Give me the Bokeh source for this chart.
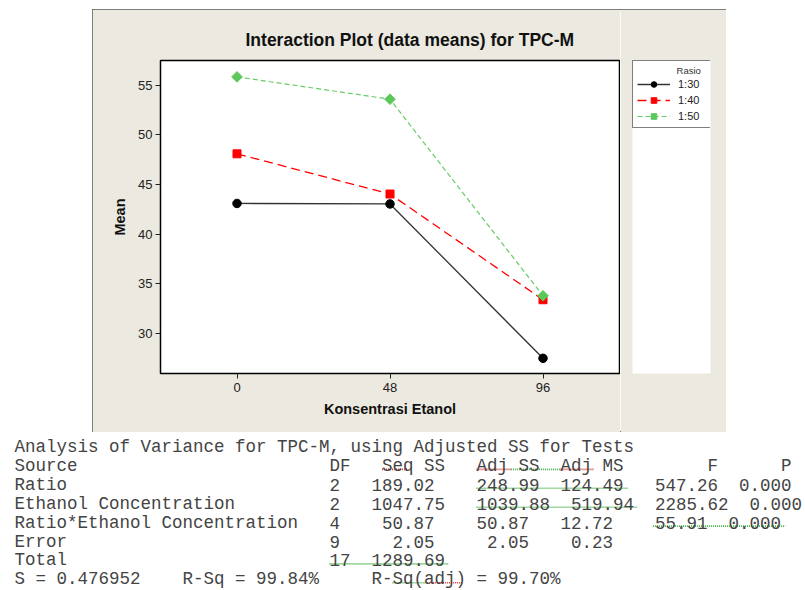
from bokeh.plotting import figure
from bokeh.models import (Range1d, FixedTicker, Legend, LegendItem,
                          ColumnDataSource, Spacer)
from bokeh.layouts import column, row
from bokeh.embed import file_html
from bokeh.resources import INLINE
from bokeh.core.properties import value

# ---------------- chart data ----------------
etanol = [0, 48, 96]
ratios = ["1:30", "1:40", "1:50"]
mean_1_30 = [43.1, 43.05, 27.5]
mean_1_40 = [48.1, 44.05, 33.4]
mean_1_50 = [55.85, 53.6, 33.8]
x_ticks = [0, 48, 96]
y_ticks = [30, 35, 40, 45, 50, 55]

chart_title = "Interaction Plot (data means) for TPC-M"
x_label = "Konsentrasi Etanol"
y_label = "Mean"
legend_title = "Rasio"

# ---------------- ANOVA table data ----------------
anova_heading = "Analysis of Variance for TPC-M, using Adjusted SS for Tests"
anova_columns = ["Source", "DF", "Seq SS", "Adj SS", "Adj MS", "F", "P"]
anova_source = ["Ratio", "Ethanol Concentration", "Ratio*Ethanol Concentration", "Error", "Total"]
anova_df = ["2", "2", "4", "9", "17"]
anova_seq_ss = ["189.02", "1047.75", "50.87", "2.05", "1289.69"]
anova_adj_ss = ["248.99", "1039.88", "50.87", "2.05", ""]
anova_adj_ms = ["124.49", "519.94", "12.72", "0.23", ""]
anova_f = ["547.26", "2285.62", "55.91", "", ""]
anova_p = ["0.000", "0.000", "0.000", "", ""]
summary_labels = ["S = ", "R-Sq = ", "R-Sq(adj) = "]
summary_values = ["0.476952", "99.84%", "99.70%"]

# ---------------- styling / layout ----------------
PANEL = "#ECE9E0"
FONT = "Liberation Sans"
MONO = "Liberation Mono"

# main chart (left part of the grey panel)
p = figure(width=528, height=423,
           x_range=Range1d(-24, 120), y_range=Range1d(25.97, 57.5),
           output_backend="svg", toolbar_location=None,
           min_border_left=68, min_border_right=1,
           min_border_top=51, min_border_bottom=59,
           border_fill_color=PANEL, background_fill_color="white",
           title=chart_title)

p.title.text_font = FONT
p.title.text_font_size = "17.5px"
p.title.text_font_style = "bold"
p.title.text_color = "#111111"
p.title.align = "left"
p.title.offset = 85
p.title.standoff = 22

p.grid.visible = False
p.outline_line_color = "black"
p.outline_line_width = 1.5
p.outline_line_alpha = 1.0

p.xaxis.ticker = FixedTicker(ticks=x_ticks)
p.yaxis.ticker = FixedTicker(ticks=y_ticks)
p.xaxis.axis_label = x_label
p.yaxis.axis_label = y_label
for ax in (p.xaxis[0], p.yaxis[0]):
    ax.axis_line_color = None
    ax.minor_tick_line_color = None
    ax.major_tick_in = 0
    ax.major_tick_out = 5
    ax.major_tick_line_color = "#222222"
    ax.major_label_text_font = FONT
    ax.major_label_text_font_size = "13px"
    ax.major_label_text_color = "#222222"
    ax.axis_label_text_font = FONT
    ax.axis_label_text_font_size = "14.5px"
    ax.axis_label_text_font_style = "bold"
    ax.axis_label_text_color = "#111111"
p.xaxis.major_label_standoff = 4
p.yaxis.major_label_standoff = 3
p.xaxis.axis_label_standoff = 6
p.yaxis.axis_label_standoff = 7

# legend strip (right part of the grey panel); same vertical borders as p
q = figure(width=106, height=423,
           x_range=Range1d(1000, 1001), y_range=Range1d(1000, 1001),
           output_backend="svg", toolbar_location=None,
           x_axis_location=None, y_axis_location=None,
           min_border_left=12, min_border_right=16,
           min_border_top=51, min_border_bottom=59,
           border_fill_color=PANEL, background_fill_color=None)
q.grid.visible = False
q.outline_line_color = None

series = [
    (mean_1_30, dict(line_color="#333333", line_width=1.3),
     dict(marker="circle", size=8.5, fill_color="black", line_color="black")),
    (mean_1_40, dict(line_color="#FF0000", line_width=1.3, line_dash="9 5"),
     dict(marker="square", size=8, fill_color="#FF0000", line_color="#FF0000")),
    (mean_1_50, dict(line_color="#66CC66", line_width=1.2, line_dash="5 3"),
     dict(marker="square", size=7.5, angle=0.785398, fill_color="#5CC85C", line_color="#5CC85C")),
]
items = []
for name, (vals, lstyle, mstyle) in zip(ratios, series):
    src = ColumnDataSource(dict(x=etanol, y=vals))
    p.line("x", "y", source=src, **lstyle)
    p.scatter("x", "y", source=src, **mstyle)
    # same series in the legend strip (outside its visible range) -> legend glyphs
    lq = q.line("x", "y", source=src, **lstyle)
    sq_r = q.scatter("x", "y", source=src, **mstyle)
    items.append(LegendItem(label=name, renderers=[lq, sq_r]))

legend = Legend(items=items, location="top_left",
                title="\u00a0" * 15 + legend_title,
                title_text_font=FONT, title_text_font_size="9.5px",
                title_text_font_style="normal", title_text_color="#333333",
                title_standoff=1,
                label_text_font=FONT, label_text_font_size="11px",
                label_text_color="#222222",
                padding=4, spacing=2, margin=0,
                glyph_width=33, glyph_height=14,
                label_standoff=8, label_height=14, label_width=29,
                border_line_color="black", border_line_width=1,
                background_fill_color="white", background_fill_alpha=1.0)
q.add_layout(legend)

panel = row(p, q, styles={"outline": "1.5px solid #5a5a5a", "outline-offset": "-1.5px"})

# ---------------- ANOVA table as monospaced text ----------------
CH = 10.5       # character advance (px)
X0 = 14         # left start
LINE0 = 14.5    # first baseline
PITCH = 18.9    # line spacing
TH = 157        # table height

header_cols = [0, 30, 35, 44, 52, 66, 73]
row_cols = [
    [0, 30, 34, 44, 52, 61, 69],
    [0, 30, 34, 44, 53, 61, 70],
    [0, 30, 35, 44, 52, 61, 68],
    [0, 30, 36, 45, 53, 61, 69],
    [0, 30, 34, 44, 52, 61, 69],
]
summary_cols = [0, 16, 34]

txt_x, txt_y, txt = [], [], []
txt_x.append(X0); txt_y.append(LINE0); txt.append(anova_heading)
for c, s in zip(header_cols, anova_columns):
    txt_x.append(X0 + c * CH); txt_y.append(LINE0 + PITCH); txt.append(s)
for i in range(len(anova_source)):
    cells = [anova_source[i], anova_df[i], anova_seq_ss[i], anova_adj_ss[i],
             anova_adj_ms[i], anova_f[i], anova_p[i]]
    for c, s in zip(row_cols[i], cells):
        if s:
            txt_x.append(X0 + c * CH); txt_y.append(LINE0 + PITCH * (i + 2)); txt.append(s)
for c, lab, v in zip(summary_cols, summary_labels, summary_values):
    txt_x.append(X0 + c * CH); txt_y.append(LINE0 + PITCH * 7); txt.append(lab + v)

t = figure(width=805, height=TH, x_range=Range1d(0, 805), y_range=Range1d(TH, 0),
           output_backend="svg", toolbar_location=None,
           x_axis_location=None, y_axis_location=None, min_border=0,
           outline_line_color=None, background_fill_color="white",
           border_fill_color="white")
t.grid.visible = False

# spell-check squiggles (line index, start col, end col, colour)
squiggles = [
    (1, 35, 37.4, "#E03030"), (1, 44, 47.3, "#E03030"), (1, 47.3, 52, "#40B040"),
    (1, 52, 55.2, "#E03030"), (2, 44, 58.4, "#40B040"), (3, 44, 59.3, "#40B040"),
    (4, 60.8, 73.4, "#40B040"), (6, 30, 41.3, "#40B040"),
    (7, 36, 39.3, "#40B040"), (7, 39.3, 42.7, "#E03030"),
]
sqs = ColumnDataSource(dict(
    x0=[X0 + s[1] * CH for s in squiggles], x1=[X0 + s[2] * CH for s in squiggles],
    y=[LINE0 + PITCH * s[0] + 3.5 for s in squiggles], c=[s[3] for s in squiggles]))
t.segment("x0", "y", "x1", "y", source=sqs, line_color="c", line_width=1.6, line_dash="1 1")

t.text(x=txt_x, y=txt_y, text=txt, text_font=value(MONO), text_font_size="17.5px",
       text_color="#444444", text_baseline="alphabetic", text_align="left")

layout = column(Spacer(height=9), row(Spacer(width=92), panel), t)
open("out.html", "w").write(file_html(layout, INLINE))
